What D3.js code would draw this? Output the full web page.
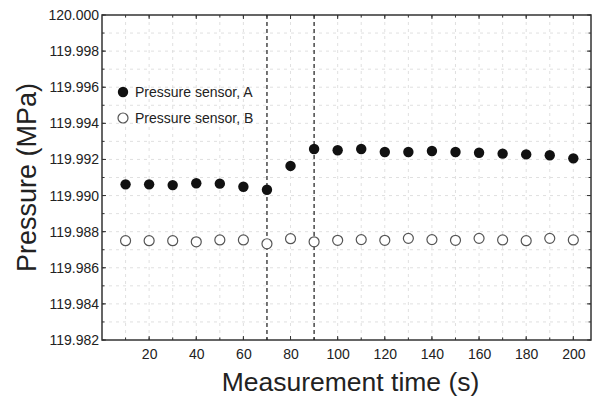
<!DOCTYPE html>
<html>
<head>
<meta charset="utf-8">
<script src="https://cdn.jsdelivr.net/npm/d3@7"></script>
<style>
  body { margin: 0; background: #fff; }
  text { font-family: "Liberation Sans", Arial, sans-serif; fill: #222; }
</style>
</head>
<body>
<div id="chart"></div>
<script>
const times = [10, 20, 30, 40, 50, 60, 70, 80, 90, 100, 110, 120, 130, 140, 150, 160, 170, 180, 190, 200];
const sensorA = [119.99062, 119.99062, 119.99058, 119.99068, 119.99066, 119.99049, 119.99032, 119.99164, 119.99258, 119.99251,
  119.99258, 119.99241, 119.99241, 119.99247, 119.99241, 119.99237, 119.99232, 119.99228, 119.99223, 119.99206];
const sensorB = [119.98750, 119.98750, 119.98750, 119.98744, 119.98754, 119.98754, 119.98733, 119.98761, 119.98744, 119.98752,
  119.98756, 119.98752, 119.98763, 119.98756, 119.98752, 119.98763, 119.98754, 119.98750, 119.98763, 119.98754];
const markerLines = [70, 90];
const xTicks = [20, 40, 60, 80, 100, 120, 140, 160, 180, 200];
const yTicks = [119.982, 119.984, 119.986, 119.988, 119.990, 119.992, 119.994, 119.996, 119.998, 120.000];
const legendLabels = ['Pressure sensor, A', 'Pressure sensor, B'];

const width = 598, height = 397;
const margin = { top: 15, right: 7, bottom: 57, left: 102 };
const w = width - margin.left - margin.right;
const h = height - margin.top - margin.bottom;

const svg = d3.select('#chart').append('svg')
  .attr('width', width)
  .attr('height', height);

const g = svg.append('g')
  .attr('transform', `translate(${margin.left},${margin.top})`);

const x = d3.scaleLinear().domain([0, 207.5]).range([0, w]);
const y = d3.scaleLinear().domain([119.982, 120.000]).range([h, 0]);

const xMinor = d3.range(10, 207, 10);
const yMinor = d3.range(0, 19).map(i => 119.982 + i * 0.001);

// grid
g.append('g').selectAll('line')
  .data(xMinor)
  .enter().append('line')
  .attr('x1', d => x(d)).attr('x2', d => x(d))
  .attr('y1', 0).attr('y2', h)
  .attr('stroke', '#d8d8d8').attr('stroke-width', 0.8)
  .attr('stroke-dasharray', '3,4');

g.append('g').selectAll('line')
  .data(yMinor.slice(1, -1))
  .enter().append('line')
  .attr('x1', 0).attr('x2', w)
  .attr('y1', d => y(d)).attr('y2', d => y(d))
  .attr('stroke', '#d8d8d8').attr('stroke-width', 0.8)
  .attr('stroke-dasharray', '3,4');

// minor ticks on all sides (inward)
const tickColor = '#333';
function ticks(data, len, vertical) {
  data.forEach(v => {
    if (vertical) {
      g.append('line').attr('x1', x(v)).attr('x2', x(v)).attr('y1', h).attr('y2', h - len).attr('stroke', tickColor);
      g.append('line').attr('x1', x(v)).attr('x2', x(v)).attr('y1', 0).attr('y2', len).attr('stroke', tickColor);
    } else {
      g.append('line').attr('x1', 0).attr('x2', len).attr('y1', y(v)).attr('y2', y(v)).attr('stroke', tickColor);
      g.append('line').attr('x1', w).attr('x2', w - len).attr('y1', y(v)).attr('y2', y(v)).attr('stroke', tickColor);
    }
  });
}
ticks(xMinor, 2.5, true);
ticks(xTicks, 4, true);
ticks(yMinor, 2.5, false);
ticks(yTicks, 4, false);

// axes labels
const xAxis = d3.axisBottom(x).tickValues(xTicks).tickSize(0).tickPadding(9);
g.append('g').attr('transform', `translate(0,${h})`).call(xAxis)
  .call(s => s.select('.domain').remove())
  .selectAll('text').attr('font-size', 14).style('fill', '#222');

const yAxis = d3.axisLeft(y).tickValues(yTicks).tickSize(0).tickPadding(3).tickFormat(d3.format('.3f'));
g.append('g').call(yAxis)
  .call(s => s.select('.domain').remove())
  .selectAll('text').attr('font-size', 14).style('fill', '#222');

// frame
g.append('rect')
  .attr('width', w).attr('height', h)
  .attr('fill', 'none').attr('stroke', '#333').attr('stroke-width', 1.5);

// vertical dashed lines
g.selectAll('.vline')
  .data(markerLines)
  .enter().append('line')
  .attr('class', 'vline')
  .attr('x1', d => x(d)).attr('x2', d => x(d))
  .attr('y1', 0).attr('y2', h)
  .attr('stroke', '#222').attr('stroke-width', 1.2)
  .attr('stroke-dasharray', '4,3');

// series B (open)
g.selectAll('.ptB')
  .data(times)
  .enter().append('circle')
  .attr('class', 'ptB')
  .attr('cx', d => x(d))
  .attr('cy', (d, i) => y(sensorB[i]))
  .attr('r', 5)
  .attr('fill', '#fff')
  .attr('stroke', '#555')
  .attr('stroke-width', 1.2);

// series A (filled)
g.selectAll('.ptA')
  .data(times)
  .enter().append('circle')
  .attr('class', 'ptA')
  .attr('cx', d => x(d))
  .attr('cy', (d, i) => y(sensorA[i]))
  .attr('r', 5.2)
  .attr('fill', '#111');

// legend
const legend = g.append('g').attr('transform', 'translate(21,77)');
legendLabels.forEach((label, i) => {
  const row = legend.append('g').attr('transform', `translate(0,${i * 26})`);
  row.append('circle').attr('r', i === 0 ? 5.2 : 5)
    .attr('fill', i === 0 ? '#111' : '#fff')
    .attr('stroke', i === 0 ? 'none' : '#555')
    .attr('stroke-width', 1.2);
  row.append('text').attr('x', 12).attr('dy', '0.35em')
    .attr('font-size', 14).text(label);
});

// axis titles
svg.append('text')
  .attr('x', margin.left + w / 2 + 4)
  .attr('y', 391)
  .attr('text-anchor', 'middle')
  .attr('font-size', 26.5)
  .text('Measurement time (s)');

svg.append('text')
  .attr('transform', `translate(36,${margin.top + h / 2}) rotate(-90)`)
  .attr('text-anchor', 'middle')
  .attr('font-size', 27)
  .text('Pressure (MPa)');
</script>
</body>
</html>
